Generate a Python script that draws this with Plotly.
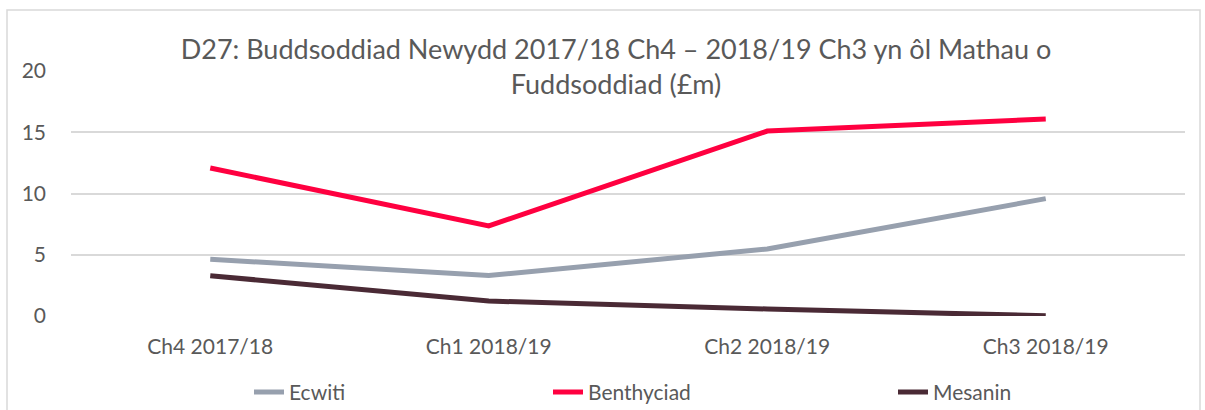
import plotly.graph_objects as go

categories = ["Ch4 2017/18", "Ch1 2018/19", "Ch2 2018/19", "Ch3 2018/19"]
ecwiti = [4.63, 3.3, 5.47, 9.58]
benthyciad = [12.08, 7.35, 15.1, 16.08]
mesanin = [3.29, 1.22, 0.57, 0.02]
series_names = ["Ecwiti", "Benthyciad", "Mesanin"]
colors = ["#97A0AE", "#FF0040", "#4A2A35"]

FONT = "Lato, 'Open Sans', sans-serif"
L, R, T, B = 71, 20, 71, 93.5
W, H = 1205, 410
pw, ph = W - L - R, H - T - B

legend_ids = ["legend", "legend2", "legend3"]
legend_text_x = [289, 588, 933]

fig = go.Figure()
for name, vals, col, lid in zip(series_names, [ecwiti, benthyciad, mesanin], colors, legend_ids):
    fig.add_trace(go.Scatter(x=categories, y=vals, name=name, mode="lines",
                             line=dict(color=col, width=5), legend=lid))

legend_layout = {}
for lid, tx in zip(legend_ids, legend_text_x):
    legend_layout[lid] = dict(orientation="h", x=(tx - 40 - L) / pw, xanchor="left",
                              y=-(393 - (T + ph)) / ph, yanchor="middle",
                              bgcolor="rgba(0,0,0,0)",
                              font=dict(size=21, color="#595959"))

fig.update_layout(
    width=W, height=H,
    margin=dict(l=L, r=R, t=T, b=B, autoexpand=False),
    paper_bgcolor="white", plot_bgcolor="white",
    font=dict(family=FONT, color="#595959", size=21),
    title=dict(text="D27: Buddsoddiad Newydd 2017/18 Ch4 – 2018/19 Ch3 yn ôl Mathau o<br>Fuddsoddiad (£m)",
               x=616 / W, xanchor="center", y=1 - 59 / H, yanchor="middle",
               font=dict(size=27, color="#595959", family=FONT)),
    xaxis=dict(range=[-0.5, 3.5], showgrid=False, showline=False, zeroline=False, ticks="",
               automargin=False, ticklabelstandoff=16,
               tickfont=dict(size=21, color="#595959")),
    yaxis=dict(range=[0, 20], dtick=5, showgrid=True, gridcolor="#D9D9D9", gridwidth=1.5,
               zeroline=False, showline=False, ticks="", ticklabelstandoff=24, automargin=False,
               tickfont=dict(size=21, color="#595959")),
    showlegend=True,
    **legend_layout,
)
fig.add_shape(type="rect", xref="paper", yref="paper",
              x0=(7 - L) / pw, x1=(1200 - L) / pw,
              y0=(T + ph - 430) / ph, y1=(T + ph - 10) / ph,
              line=dict(color="#D9D9D9", width=1.5), fillcolor="rgba(0,0,0,0)", layer="below")
fig.write_html("out.html", config={"displayModeBar": False},
               post_script="document.body.style.margin='0';")
